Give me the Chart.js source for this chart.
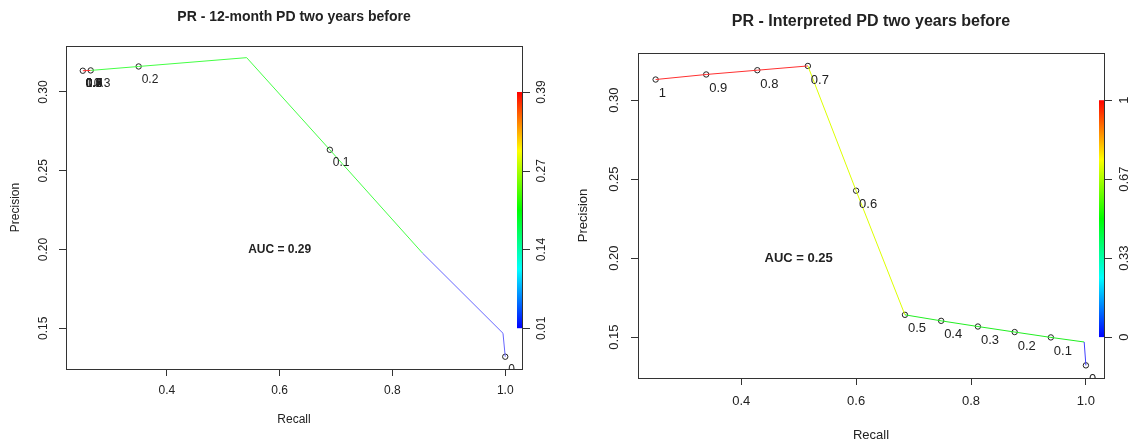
<!DOCTYPE html>
<html>
<head>
<meta charset="utf-8">
<script src="https://cdn.jsdelivr.net/npm/chart.js@4.4.1/dist/chart.umd.min.js"></script>
<style>
  body { margin: 0; background: #fff; }
  #wrap { display: flex; width: 1140px; height: 443px; }
  #wrap div { width: 570px; height: 443px; }
</style>
</head>
<body>
<div id="wrap">
  <div><canvas id="Chart1" width="570" height="443"></canvas></div>
  <div><canvas id="Chart2" width="570" height="443"></canvas></div>
</div>
<script>
// ---- left: 12-month PD ----
var recall1 = [0.251, 0.265, 0.350, 0.5415, 0.689, 0.853, 0.996, 1.0];
var precision1 = [0.3135, 0.3137, 0.3162, 0.3218, 0.2633, 0.1978, 0.1468, 0.1319];
var segColors1 = ['#ff3030', '#44ff44', '#44ff44', '#44ff44', '#44ff44', '#6666ff', '#6666ff'];
var cutRecall1 = [0.251, 0.251, 0.251, 0.251, 0.251, 0.251, 0.251, 0.265, 0.350, 0.689, 1.0];
var cutPrecision1 = [0.3135, 0.3135, 0.3135, 0.3135, 0.3135, 0.3135, 0.3135, 0.3137, 0.3162, 0.2633, 0.1319];
var cutLabels1 = ['1', '0.9', '0.8', '0.7', '0.6', '0.5', '0.4', '0.3', '0.2', '0.1', '0'];
var barLabels1 = ['0.01', '0.14', '0.27', '0.39'];

// ---- right: interpreted PD ----
var recall2 = [0.251, 0.339, 0.428, 0.516, 0.600, 0.685, 0.748, 0.812, 0.876, 0.939, 0.997, 1.0];
var precision2 = [0.3131, 0.3163, 0.3190, 0.3217, 0.2427, 0.1641, 0.1603, 0.1567, 0.1532, 0.1498, 0.1469, 0.1321];
var segColors2 = ['#ff3030', '#ff3030', '#ff3030', '#ddff00', '#ddff00', '#22ee22', '#22ee22', '#22ee22', '#22ee22', '#22ee22', '#4040ff'];
var cutRecall2 = [0.251, 0.339, 0.428, 0.516, 0.600, 0.685, 0.748, 0.812, 0.876, 0.939, 1.0];
var cutPrecision2 = [0.3131, 0.3163, 0.3190, 0.3217, 0.2427, 0.1641, 0.1603, 0.1567, 0.1532, 0.1498, 0.1321];
var cutLabels2 = ['1', '0.9', '0.8', '0.7', '0.6', '0.5', '0.4', '0.3', '0.2', '0.1', '0'];
var barLabels2 = ['0', '0.33', '0.67', '1'];

// shared axis ticks
var xTicks = [0.4, 0.6, 0.8, 1.0];
var yTicks = [0.15, 0.20, 0.25, 0.30];

var FONT = '"Liberation Sans", Arial, sans-serif';
var TEXT = '#222';
var AXIS = '#333';

function toPoints(xs, ys) {
	return xs.map(function (x, i) { return {x: x, y: ys[i]}; });
}

// draws the R-ish decorations: box, titles, AUC, cutoff labels, colour bar
var rocrPlugin = {
	id: 'rocr',
	afterDraw: function (chart) {
		var o = chart.options.plugins.rocr;
		var ctx = chart.ctx, a = chart.chartArea;
		var xs = chart.scales.x, ys = chart.scales.y;
		ctx.save();

		// box
		ctx.strokeStyle = AXIS;
		ctx.lineWidth = 1;
		ctx.strokeRect(a.left + 0.5, a.top + 0.5, a.right - a.left, a.bottom - a.top);

		// title
		ctx.fillStyle = TEXT;
		ctx.textAlign = 'center';
		ctx.textBaseline = 'middle';
		ctx.font = 'bold ' + o.titleSize + 'px ' + FONT;
		ctx.fillText(o.title, (a.left + a.right) / 2, o.titleY);

		// axis titles
		ctx.font = o.size + 'px ' + FONT;
		ctx.fillText('Recall', (a.left + a.right) / 2, o.xTitleY);
		ctx.save();
		ctx.translate(o.yTitleX, (a.top + a.bottom) / 2);
		ctx.rotate(-Math.PI / 2);
		ctx.fillText('Precision', 0, 0);
		ctx.restore();

		// AUC
		ctx.font = 'bold ' + o.size + 'px ' + FONT;
		ctx.fillText(o.auc, xs.getPixelForValue(o.aucAt[0]), ys.getPixelForValue(o.aucAt[1]));

		// cutoff labels (clipped like R does)
		ctx.save();
		ctx.beginPath();
		ctx.rect(a.left, a.top, a.right - a.left, a.bottom - a.top);
		ctx.clip();
		ctx.font = o.size + 'px ' + FONT;
		ctx.textAlign = 'left';
		var pts = chart.data.datasets[1].data;
		o.labels.forEach(function (lab, i) {
			ctx.fillText(lab, xs.getPixelForValue(pts[i].x) + 3, ys.getPixelForValue(pts[i].y) + o.size + 1);
		});
		ctx.restore();

		// colour bar
		var top = ys.getPixelForValue(yTicks[yTicks.length - 1]);
		var bot = ys.getPixelForValue(yTicks[0]);
		var g = ctx.createLinearGradient(0, bot, 0, top);
		g.addColorStop(0, '#0000ff');
		g.addColorStop(0.25, '#00ffff');
		g.addColorStop(0.5, '#00ff00');
		g.addColorStop(0.75, '#ffff00');
		g.addColorStop(1, '#ff0000');
		ctx.fillStyle = g;
		ctx.fillRect(a.right - 5, top, 5, bot - top);

		ctx.strokeStyle = AXIS;
		ctx.fillStyle = TEXT;
		ctx.textAlign = 'center';
		ctx.font = o.size + 'px ' + FONT;
		o.bar.forEach(function (lab, i) {
			var y = bot + (top - bot) * i / (o.bar.length - 1);
			ctx.beginPath();
			ctx.moveTo(a.right, Math.round(y) + 0.5);
			ctx.lineTo(a.right + 8, Math.round(y) + 0.5);
			ctx.stroke();
			ctx.save();
			ctx.translate(a.right + 20, y);
			ctx.rotate(-Math.PI / 2);
			ctx.fillText(lab, 0, 0);
			ctx.restore();
		});
		ctx.restore();
	}
};

function prChart(id, cfg) {
	return new Chart(document.getElementById(id).getContext('2d'), {
		type: 'scatter',
		data: {
			datasets: [{
				data: toPoints(cfg.recall, cfg.precision),
				showLine: true,
				borderWidth: 1,
				pointRadius: 0,
				segment: { borderColor: function (c) { return cfg.colors[c.p0DataIndex]; } }
			}, {
				data: toPoints(cfg.cutRecall, cfg.cutPrecision),
				showLine: false,
				// one circle per distinct cutoff point
				pointRadius: function (c) {
					var i = c.dataIndex;
					return (i > 0 && cfg.cutRecall[i] === cfg.cutRecall[i - 1] && cfg.cutPrecision[i] === cfg.cutPrecision[i - 1]) ? 0 : 2.7;
				},
				pointBorderWidth: 1,
				pointBorderColor: '#222',
				pointBackgroundColor: 'rgba(0,0,0,0)'
			}]
		},
		options: {
			responsive: false,
			animation: false,
			events: [],
			layout: { padding: { top: cfg.area.top, right: cfg.area.right, left: 0, bottom: 0 } },
			plugins: {
				legend: { display: false },
				tooltip: { enabled: false },
				rocr: {
					title: cfg.title, titleSize: cfg.titleSize, titleY: cfg.titleY,
					size: cfg.size, xTitleY: cfg.xTitleY, yTitleX: cfg.yTitleX,
					auc: cfg.auc, aucAt: cfg.aucAt, labels: cfg.cutLabels, bar: cfg.bar
				}
			},
			scales: {
				x: {
					min: cfg.xRange[0], max: cfg.xRange[1],
					afterBuildTicks: function (s) { s.ticks = xTicks.map(function (v) { return {value: v}; }); },
					afterFit: function (s) { s.height = cfg.area.bottom; },
					grid: { drawOnChartArea: false, color: AXIS, tickLength: 7 },
					border: { color: AXIS },
					ticks: {
						maxRotation: 0, padding: cfg.xPad, color: TEXT,
						font: { family: FONT, size: cfg.size },
						callback: function (v) { return v.toFixed(1); }
					}
				},
				y: {
					min: cfg.yRange[0], max: cfg.yRange[1],
					afterBuildTicks: function (s) { s.ticks = yTicks.map(function (v) { return {value: v}; }); },
					afterFit: function (s) { s.width = cfg.area.left; },
					grid: { drawOnChartArea: false, color: AXIS, tickLength: 7 },
					border: { color: AXIS },
					ticks: {
						minRotation: 90, maxRotation: 90, crossAlign: 'center', padding: 4, color: TEXT,
						font: { family: FONT, size: cfg.size },
						callback: function (v) { return v.toFixed(2); }
					}
				}
			}
		},
		plugins: [rocrPlugin]
	});
}

var myChart = prChart('Chart1', {
	recall: recall1, precision: precision1, colors: segColors1,
	cutRecall: cutRecall1, cutPrecision: cutPrecision1, cutLabels: cutLabels1, bar: barLabels1,
	title: 'PR - 12-month PD two years before', titleSize: 14, titleY: 17,
	size: 12, xTitleY: 420, yTitleX: 16, xPad: 7,
	auc: 'AUC = 0.29', aucAt: [0.6, 0.2],
	xRange: [0.2212, 1.0297], yRange: [0.1241, 0.3292],
	area: { left: 66, right: 48, top: 46, bottom: 74 }
});

var myChart2 = prChart('Chart2', {
	recall: recall2, precision: precision2, colors: segColors2,
	cutRecall: cutRecall2, cutPrecision: cutPrecision2, cutLabels: cutLabels2, bar: barLabels2,
	title: 'PR - Interpreted PD two years before', titleSize: 16, titleY: 22,
	size: 13, xTitleY: 435, yTitleX: 13, xPad: 9,
	auc: 'AUC = 0.25', aucAt: [0.5, 0.2],
	xRange: [0.2203, 1.0315], yRange: [0.1241, 0.3299],
	area: { left: 68, right: 36, top: 53, bottom: 65 }
});
</script>
</body>
</html>
